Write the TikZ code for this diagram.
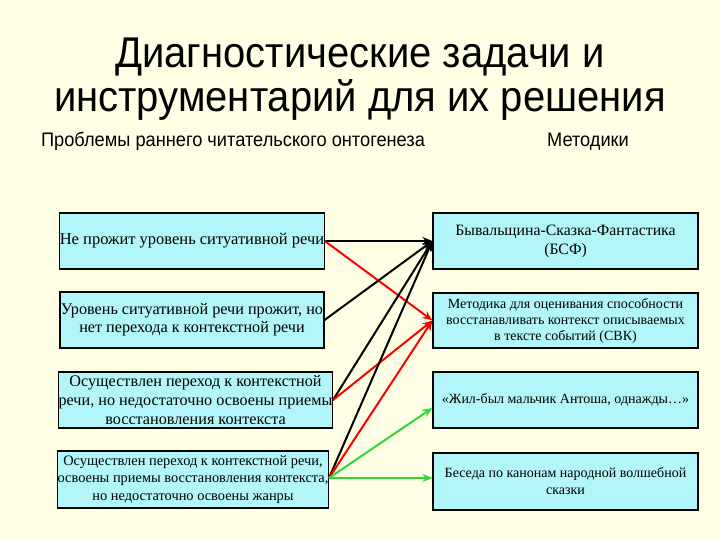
\documentclass[tikz,border=0pt]{standalone}
\usepackage{fontspec}
\setmainfont{Liberation Serif}
\newfontfamily\arialfont[FakeStretch=0.93]{Liberation Sans}
\usetikzlibrary{arrows.meta,calc}
\definecolor{bgcol}{RGB}{255,255,230}
\definecolor{boxcol}{RGB}{178,246,250}
\definecolor{grn}{RGB}{50,215,50}
\begin{document}
\begin{tikzpicture}[x=1pt,y=-1pt,
  lbox/.style={draw=black,line width=1.2pt,fill=boxcol,inner sep=0pt,align=center,font=\fontsize{16.2}{19}\selectfont},
  rbox/.style={draw=black,line width=1.2pt,fill=boxcol,inner sep=0pt,align=center,font=\fontsize{14}{16.5}\selectfont},
  conn/.style={line width=2pt,-{Stealth[length=10pt,width=8pt]}}]
\fill[bgcol] (0,0) rectangle (720,540);
\useasboundingbox (0,0) rectangle (720,540);
\node[anchor=base,align=center,font=\arialfont\fontsize{43}{44}\selectfont] (title) at (360,112) {Диагностические задачи и\\инструментарий для их решения};
\node[anchor=base,font=\arialfont\fontsize{19.6}{20}\selectfont] (hl) at (233,147) {Проблемы раннего читательского онтогенеза};
\node[anchor=base,font=\arialfont\fontsize{19.6}{20}\selectfont] (hr) at (588,147) {Методики};
\node[lbox,minimum width=264pt,minimum height=56pt,font=\fontsize{16.5}{19}\selectfont] (L1) at (192,241) {Не прожит уровень ситуативной речи};
\node[lbox,minimum width=264pt,minimum height=56pt,font=\fontsize{16.2}{18}\selectfont] (L2) at (192,320) {Уровень ситуативной речи прожит, но\\нет перехода к контекстной речи};
\node[lbox,minimum width=271pt,minimum height=56pt] (L3) at (195.5,400) {Осуществлен переход к контекстной\\речи, но недостаточно освоены приемы\\восстановления контекста};
\node[lbox,minimum width=266pt,minimum height=57pt,font=\fontsize{14.4}{17.5}\selectfont] (L4) at (193,479.5) {Осуществлен переход к контекстной речи,\\освоены приемы восстановления контекста,\\но недостаточно освоены жанры};
\node[rbox,minimum width=265pt,minimum height=56pt,font=\fontsize{15.8}{19}\selectfont] (R1) at (565.5,241) {Бывальщина-Сказка-Фантастика\\(БСФ)};
\node[rbox,minimum width=265pt,minimum height=55pt,font=\fontsize{14}{16}\selectfont] (R2) at (565.5,320.5) {Методика для оценивания способности\\восстанавливать контекст описываемых\\в тексте событий (СВК)};
\node[rbox,minimum width=265pt,minimum height=56pt] (R3) at (565.5,400) {«Жил-был мальчик Антоша, однажды…»};
\node[rbox,minimum width=265pt,minimum height=57pt,font=\fontsize{14}{17}\selectfont] (R4) at (565.5,481.5) {Беседа по канонам народной волшебной\\сказки};
\coordinate (R3in) at ($(R3.west)+(0,8)$);
\coordinate (L4out) at ($(L4.east)+(0,-1.5)$);
\draw[conn] (L1.east) -- (R1.west);
\draw[conn,red] (L1.east) -- (R2.west);
\draw[conn] (L2.east) -- (R1.west);
\draw[conn] (L3.east) -- (R1.west);
\draw[conn,red] (L3.east) -- (R2.west);
\draw[conn] (L4out) -- (R1.west);
\draw[conn,red] (L4out) -- (R2.west);
\draw[conn,grn] (L4out) -- (R3in);
\draw[conn,grn] (L4out) -- (R4.west |- L4out);
\end{tikzpicture}
\end{document}
